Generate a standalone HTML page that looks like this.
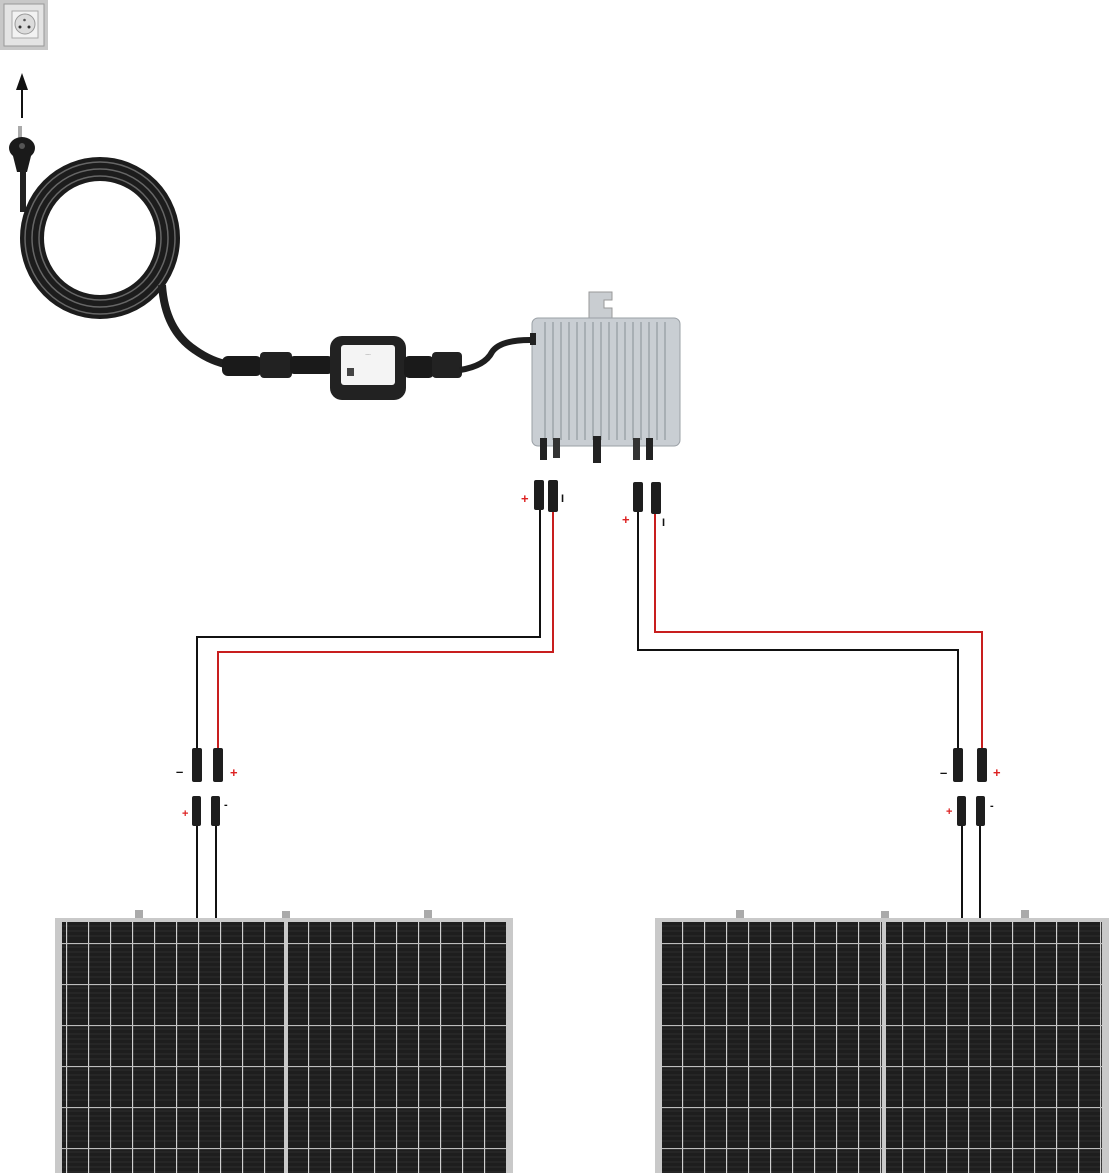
<!DOCTYPE html>
<html><head><meta charset="utf-8"><style>
html,body{margin:0;padding:0;background:#fff;}
svg{display:block;}
</style></head><body>
<svg width="1111" height="1173" viewBox="0 0 1111 1173" xmlns="http://www.w3.org/2000/svg" font-family="Liberation Sans, sans-serif">
<defs>
<pattern id="cells" x="0" y="0" width="22" height="41" patternUnits="userSpaceOnUse">
<rect width="22" height="41" fill="#1e1e1e"/>
<g stroke="#2e2e2e" stroke-width="1">
<line x1="0" y1="4" x2="22" y2="4"/><line x1="0" y1="9" x2="22" y2="9"/><line x1="0" y1="14" x2="22" y2="14"/><line x1="0" y1="19" x2="22" y2="19"/><line x1="0" y1="24" x2="22" y2="24"/><line x1="0" y1="29" x2="22" y2="29"/><line x1="0" y1="34" x2="22" y2="34"/>
</g>
<line x1="0.5" y1="0" x2="0.5" y2="41" stroke="#cfcfcf" stroke-width="1.3"/>
<line x1="0" y1="0.5" x2="22" y2="0.5" stroke="#bdbdbd" stroke-width="1.3"/>
</pattern>
</defs>

<!-- socket -->
<rect x="0" y="0" width="48" height="50" fill="#c8c8c8"/>
<rect x="4" y="4" width="40" height="42" fill="#e4e4e4" stroke="#999"/>
<rect x="12" y="11" width="26" height="27" fill="#f2f2f2" stroke="#aaa"/>
<circle cx="25" cy="24" r="10" fill="#dcdcdc" stroke="#999"/>
<circle cx="20" cy="27" r="1.5" fill="#333"/><circle cx="29" cy="27" r="1.5" fill="#333"/><circle cx="24.5" cy="20" r="1.3" fill="#555"/>

<!-- arrow -->
<line x1="22" y1="118" x2="22" y2="88" stroke="#111" stroke-width="2"/>
<polygon points="22,73 16,90 28,90" fill="#111"/>

<!-- plug -->
<rect x="18" y="126" width="4" height="14" fill="#aaa"/>
<ellipse cx="22" cy="148" rx="13" ry="11" fill="#1a1a1a"/>
<path d="M12,152 L32,152 L27,172 L17,172 Z" fill="#1a1a1a"/>
<circle cx="22" cy="146" r="3" fill="#555"/>
<rect x="20" y="170" width="6" height="42" fill="#222"/>

<!-- coil -->
<ellipse cx="100" cy="238" rx="68" ry="69" fill="none" stroke="#1c1c1c" stroke-width="24"/>
<ellipse cx="100" cy="238" rx="61" ry="62" fill="none" stroke="#666" stroke-width="1.5"/>
<ellipse cx="100" cy="238" rx="68" ry="69" fill="none" stroke="#666" stroke-width="1.5"/>
<ellipse cx="100" cy="238" rx="75" ry="76" fill="none" stroke="#666" stroke-width="1.5"/>
<path d="M162,285 Q165,330 195,350 Q212,362 230,365" fill="none" stroke="#1e1e1e" stroke-width="8"/>

<!-- AC cable with connectors -->
<rect x="222" y="356" width="40" height="20" rx="6" fill="#1a1a1a"/>
<rect x="260" y="352" width="32" height="26" rx="4" fill="#222"/>
<rect x="290" y="356" width="42" height="18" rx="4" fill="#1a1a1a"/>
<rect x="330" y="336" width="76" height="64" rx="12" fill="#222"/>
<rect x="341" y="345" width="54" height="40" rx="3" fill="#f4f4f4"/>
<text x="368" y="355" font-size="4" text-anchor="middle" fill="#444">----</text>
<rect x="347" y="368" width="7" height="8" fill="#444"/>
<rect x="404" y="356" width="30" height="22" rx="5" fill="#1a1a1a"/>
<rect x="432" y="352" width="30" height="26" rx="4" fill="#222"/>
<path d="M460,370 Q485,366 492,352 Q500,340 530,340" fill="none" stroke="#1e1e1e" stroke-width="6"/>

<!-- inverter -->
<path d="M589,292 L612,292 L612,300 L604,300 L604,308 L612,308 L612,318 L589,318 Z" fill="#c9cdd1" stroke="#999"/>
<rect x="532" y="318" width="148" height="128" rx="6" fill="#c9ced3" stroke="#9aa0a6"/>
<g stroke="#9aa2a8" stroke-width="1.4">
<line x1="545" y1="322" x2="545" y2="440"/><line x1="553" y1="322" x2="553" y2="440"/><line x1="561" y1="322" x2="561" y2="440"/><line x1="569" y1="322" x2="569" y2="440"/><line x1="577" y1="322" x2="577" y2="440"/><line x1="585" y1="322" x2="585" y2="440"/><line x1="593" y1="322" x2="593" y2="440"/><line x1="601" y1="322" x2="601" y2="440"/><line x1="609" y1="322" x2="609" y2="440"/><line x1="617" y1="322" x2="617" y2="440"/><line x1="625" y1="322" x2="625" y2="440"/><line x1="633" y1="322" x2="633" y2="440"/><line x1="641" y1="322" x2="641" y2="440"/><line x1="649" y1="322" x2="649" y2="440"/><line x1="657" y1="322" x2="657" y2="440"/><line x1="665" y1="322" x2="665" y2="440"/>
</g>
<rect x="530" y="333" width="6" height="12" fill="#222"/>
<rect x="540" y="438" width="7" height="22" fill="#222"/><rect x="553" y="438" width="7" height="20" fill="#333"/>
<rect x="593" y="436" width="8" height="27" fill="#222"/>
<rect x="633" y="438" width="7" height="22" fill="#333"/><rect x="646" y="438" width="7" height="22" fill="#222"/>

<!-- inverter-side MC4 connectors -->
<g fill="#1e1e1e">
<rect x="534" y="480" width="10" height="30" rx="2"/><rect x="548" y="480" width="10" height="32" rx="2"/>
<rect x="633" y="482" width="10" height="30" rx="2"/><rect x="651" y="482" width="10" height="32" rx="2"/>
</g>
<g font-size="13" font-weight="bold">
<text x="521" y="503" fill="#d22">+</text><text x="561" y="502" fill="#111" font-size="11">I</text>
<text x="622" y="524" fill="#d22">+</text><text x="662" y="526" fill="#111" font-size="11">I</text>
</g>

<!-- wires left -->
<polyline points="540,510 540,637 197,637 197,752" fill="none" stroke="#111" stroke-width="2"/>
<polyline points="553,512 553,652 218,652 218,752" fill="none" stroke="#c81e1e" stroke-width="2"/>
<!-- wires right -->
<polyline points="638,512 638,650 958,650 958,752" fill="none" stroke="#111" stroke-width="2"/>
<polyline points="655,514 655,632 982,632 982,752" fill="none" stroke="#c81e1e" stroke-width="2"/>

<!-- panel-side connectors -->
<g fill="#1e1e1e">
<rect x="192" y="748" width="10" height="34" rx="2"/><rect x="213" y="748" width="10" height="34" rx="2"/>
<rect x="192" y="796" width="9" height="30" rx="2"/><rect x="211" y="796" width="9" height="30" rx="2"/>
<rect x="953" y="748" width="10" height="34" rx="2"/><rect x="977" y="748" width="10" height="34" rx="2"/>
<rect x="957" y="796" width="9" height="30" rx="2"/><rect x="976" y="796" width="9" height="30" rx="2"/>
</g>
<g font-size="13" font-weight="bold">
<text x="176" y="776" fill="#111">–</text><text x="230" y="777" fill="#d22">+</text>
<text x="182" y="817" fill="#d22" font-size="11">+</text><text x="224" y="808" fill="#111" font-size="11">-</text>
<text x="940" y="777" fill="#111">–</text><text x="993" y="777" fill="#d22">+</text>
<text x="946" y="815" fill="#d22" font-size="11">+</text><text x="990" y="809" fill="#111" font-size="11">-</text>
</g>
<line x1="197" y1="826" x2="197" y2="920" stroke="#111" stroke-width="2"/>
<line x1="216" y1="826" x2="216" y2="920" stroke="#111" stroke-width="2"/>
<line x1="962" y1="826" x2="962" y2="920" stroke="#111" stroke-width="2"/>
<line x1="980" y1="826" x2="980" y2="920" stroke="#111" stroke-width="2"/>

<!-- left panel -->
<g fill="#aaa"><rect x="135" y="910" width="8" height="9"/><rect x="282" y="911" width="8" height="8"/><rect x="424" y="910" width="8" height="9"/></g>
<rect x="55" y="918" width="458" height="260" fill="#c9c9c9"/>
<rect x="62" y="922" width="222" height="255" fill="url(#cells)"/>
<rect x="288" y="922" width="218" height="255" fill="url(#cells)"/>
<!-- right panel -->
<g fill="#aaa"><rect x="736" y="910" width="8" height="9"/><rect x="881" y="911" width="8" height="8"/><rect x="1021" y="910" width="8" height="9"/></g>
<rect x="655" y="918" width="454" height="260" fill="#c9c9c9"/>
<rect x="662" y="922" width="220" height="255" fill="url(#cells)"/>
<rect x="886" y="922" width="216" height="255" fill="url(#cells)"/>
</svg>
</body></html>
